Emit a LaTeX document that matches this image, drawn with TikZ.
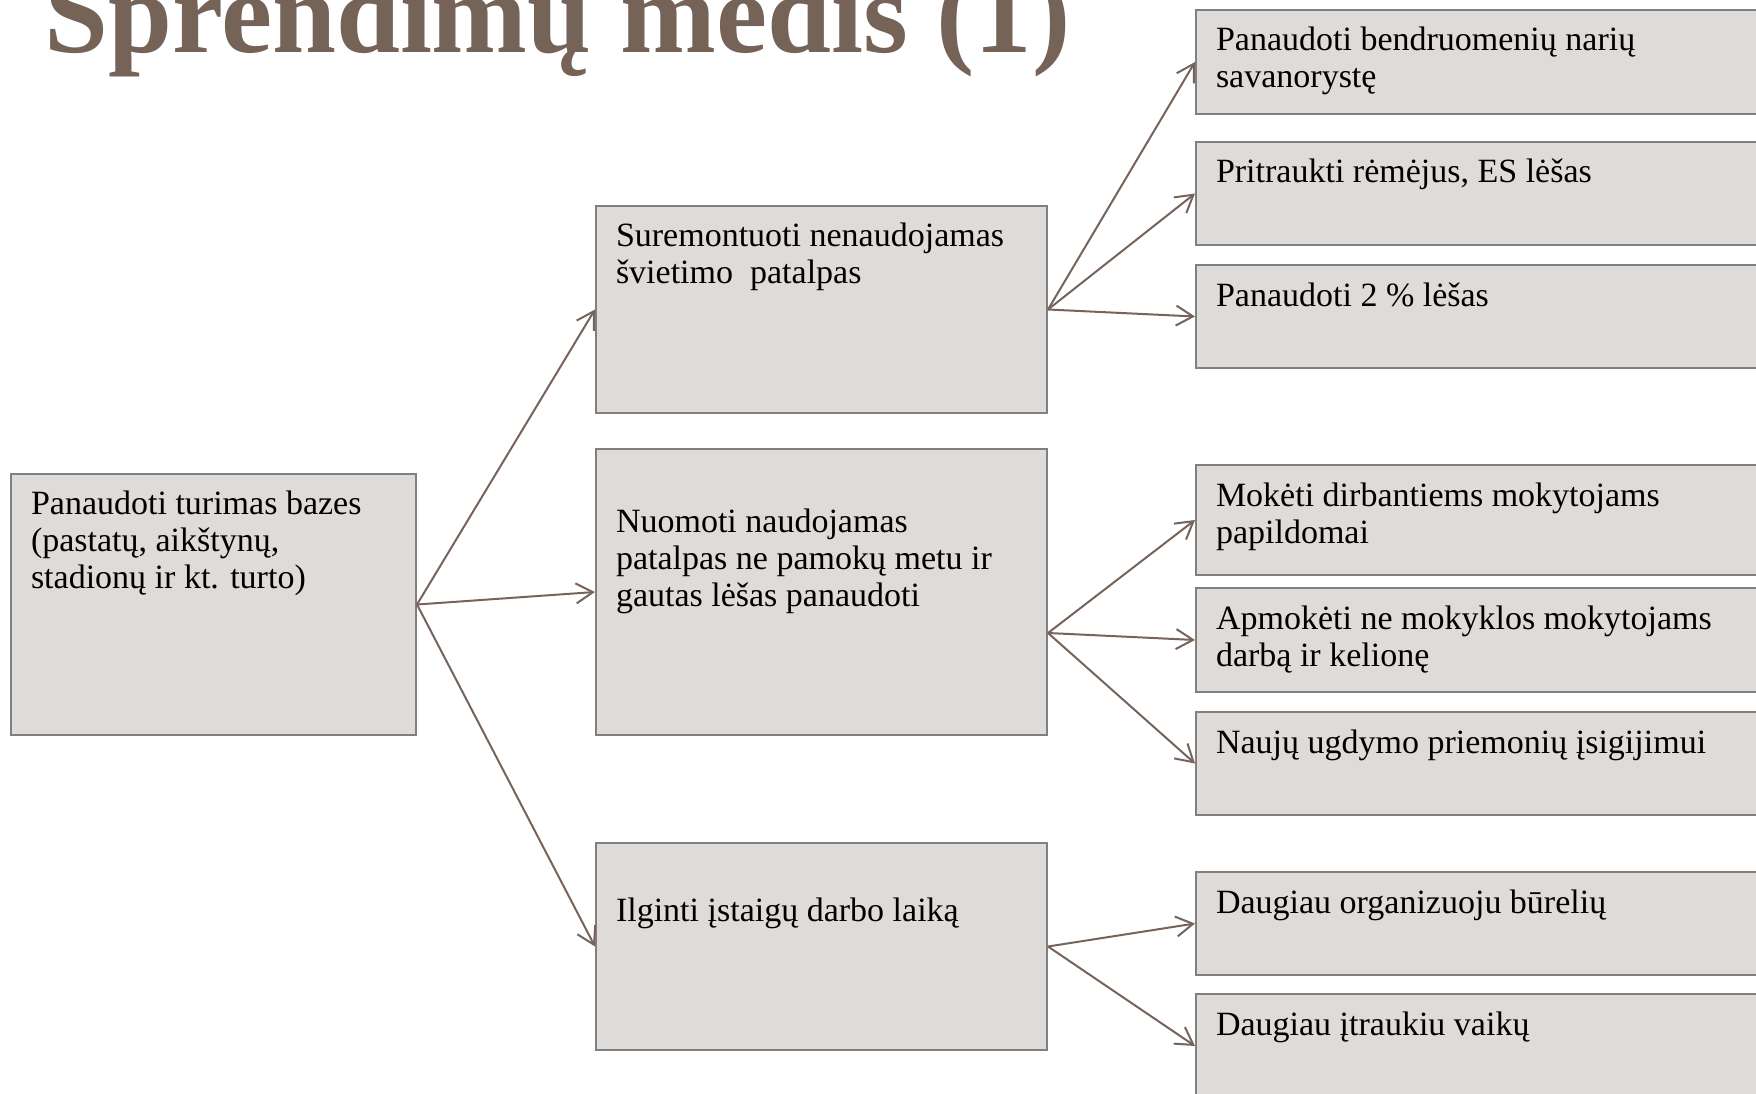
\documentclass[tikz,border=0pt]{standalone}
\usepackage{fontspec}
\setmainfont{Liberation Serif}
\usetikzlibrary{arrows.meta}

\begin{document}
\begin{tikzpicture}[x=1pt, y=-1pt, font=\fontsize{34}{37}\selectfont,
    box/.style n args={3}{draw=boxline, fill=boxfill, line width=2pt,
      anchor=north west, inner xsep=20pt, inner ysep=0pt,
      execute at begin node={\begin{minipage}[t][#2][t]{#1}\raggedright\rule{0pt}{#3}},
      execute at end node={\end{minipage}}},
    leaf/.style={box={560pt}{#1}{41pt}},
    arr/.style={draw=arrowcol, line width=2pt, -{Straight Barb[length=17pt, width=20pt]}}]

      % Colors: warm grey boxes, brown title and arrows
      \definecolor{boxfill}{RGB}{223,219,216}
      \definecolor{boxline}{RGB}{128,128,128}
      \definecolor{arrowcol}{RGB}{118,100,90}
      \definecolor{titlecol}{RGB}{117,99,88}

      % page size in pixels of the slide
      \useasboundingbox (0,0) rectangle (1756,1094);
      \clip (0,0) rectangle (1756,1094);

      % --- Title ---
      \node[anchor=base west, inner sep=0pt, text=titlecol,
        font=\fontsize{115}{120}\selectfont\bfseries] (titulas) at (44,53) {Sprendimų medis (1)};

      % --- Root ---
      \node[box={365pt}{261pt}{40pt}] (bazes) at (10,473)
        {Panaudoti turimas bazes\\(pastatų, aikštynų,\\stadionų ir kt. turto)};

      % --- Middle column ---
      \node[box={411pt}{207pt}{41pt}] (remontas) at (595,205)
        {Suremontuoti nenaudojamas\\švietimo~ patalpas};
      \node[box={411pt}{286pt}{83pt}] (nuoma) at (595,448)
        {Nuomoti naudojamas\\patalpas ne pamokų metu ir\\gautas lėšas panaudoti};
      \node[box={411pt}{207pt}{78pt}] (laikas) at (595,842)
        {Ilginti įstaigų darbo laiką};

      % --- Right column ---
      \node[leaf={104pt}] (savanor) at (1195,9) {Panaudoti bendruomenių narių\\savanorystę};
      \node[leaf={103pt}] (remejai) at (1195,141) {Pritraukti rėmėjus, ES lėšas};
      \node[leaf={103pt}] (procentai) at (1195,264) {Panaudoti 2 \% lėšas};

      \node[leaf={110pt}] (moketi) at (1195,464) {Mokėti dirbantiems mokytojams\\papildomai};
      \node[leaf={104pt}] (apmoketi) at (1195,587) {Apmokėti ne mokyklos mokytojams\\darbą ir kelionę};
      \node[leaf={103pt}] (priemones) at (1195,711) {Naujų ugdymo priemonių įsigijimui};

      \node[leaf={103pt}] (bureliai) at (1195,871) {Daugiau organizuoju būrelių};
      \node[leaf={104pt}] (vaikai) at (1195,993) {Daugiau įtraukiu vaikų};

      % --- Arrows ---
      \draw[arr] (bazes.east) -- (remontas.west);
      \draw[arr] (bazes.east) -- (nuoma.west);
      \draw[arr] (bazes.east) -- (laikas.west);

      \draw[arr] (remontas.east) -- (savanor.west);
      \draw[arr] (remontas.east) -- (remejai.west);
      \draw[arr] (remontas.east) -- (procentai.west);

      % nuoma fans out below its middle
      \coordinate (nuomaOut) at ([yshift=-41pt]nuoma.east);
      \draw[arr] (nuomaOut) -- (moketi.west);
      \draw[arr] (nuomaOut) -- (apmoketi.west);
      \draw[arr] (nuomaOut) -- (priemones.west);

      \draw[arr] (laikas.east) -- (bureliai.west);
      \draw[arr] (laikas.east) -- (vaikai.west);

    \end{tikzpicture}
\end{document}
